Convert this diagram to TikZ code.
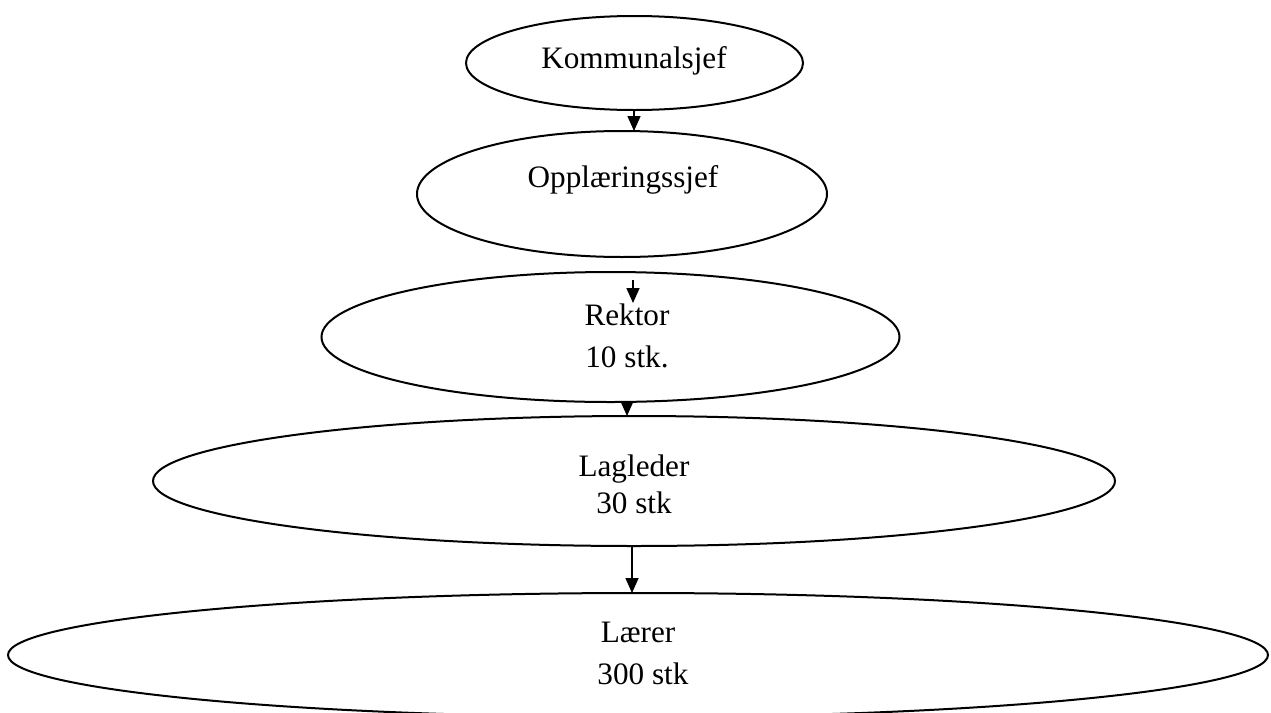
\documentclass[tikz,border=0pt]{standalone}
\usepackage{fontspec}
\setmainfont{Liberation Serif}
\usetikzlibrary{shapes.geometric,arrows.meta}
\begin{document}
\begin{tikzpicture}[x=0.5pt,y=-0.5pt,
  oval/.style={draw,ellipse,line width=1pt,inner sep=0pt,outer sep=0pt},
  lbl/.style={anchor=base,inner sep=0pt,font=\fontsize{15.6pt}{18.5pt}\selectfont},
  arr/.style={line width=0.8pt,-{Triangle[length=7.5pt,width=6.5pt]}}]
\useasboundingbox (0,0) rectangle (1271,713);
\clip (0,0) rectangle (1271,713);

% hierarchy levels, top to bottom
\node[oval,minimum width=168.5pt,minimum height=47pt] (k) at (634.5,63) {};
\node[oval,minimum width=205pt,minimum height=63pt] (o) at (622,194) {};
\node[oval,minimum width=289pt,minimum height=65pt] (r) at (610.5,337) {};
\node[oval,minimum width=481pt,minimum height=65pt] (l) at (634,481) {};
\node[oval,minimum width=630pt,minimum height=62pt] (t) at (638,655) {};

% labels
\node[lbl] (kt) at (634,68) {Kommunalsjef};
\node[lbl] (ot) at (623,187) {Opplæringssjef};
\node[lbl] (rt1) at (627,325) {Rektor};
\node[lbl] (rt2) at (627,367) {10 stk.};
\node[lbl] (lt1) at (634,476) {Lagleder};
\node[lbl] (lt2) at (634,513) {30 stk};
\node[lbl] (tt1) at (638,642) {Lærer};
\node[lbl] (tt2) at (643,684) {300 stk};

% connectors
\coordinate (ax1) at (634,0);
\coordinate (a2s) at (633,280);
\coordinate (a2e) at (633,303);
\coordinate (ax3) at (627,0);
\coordinate (ax4) at (632,0);
\draw[arr] (k.south -| ax1) -- (o.north -| ax1);
\draw[arr] (a2s) -- (a2e);
\draw[arr] (r.south -| ax3) -- (l.north -| ax3);
\draw[arr] (l.south -| ax4) -- (t.north -| ax4);
\end{tikzpicture}
\end{document}
